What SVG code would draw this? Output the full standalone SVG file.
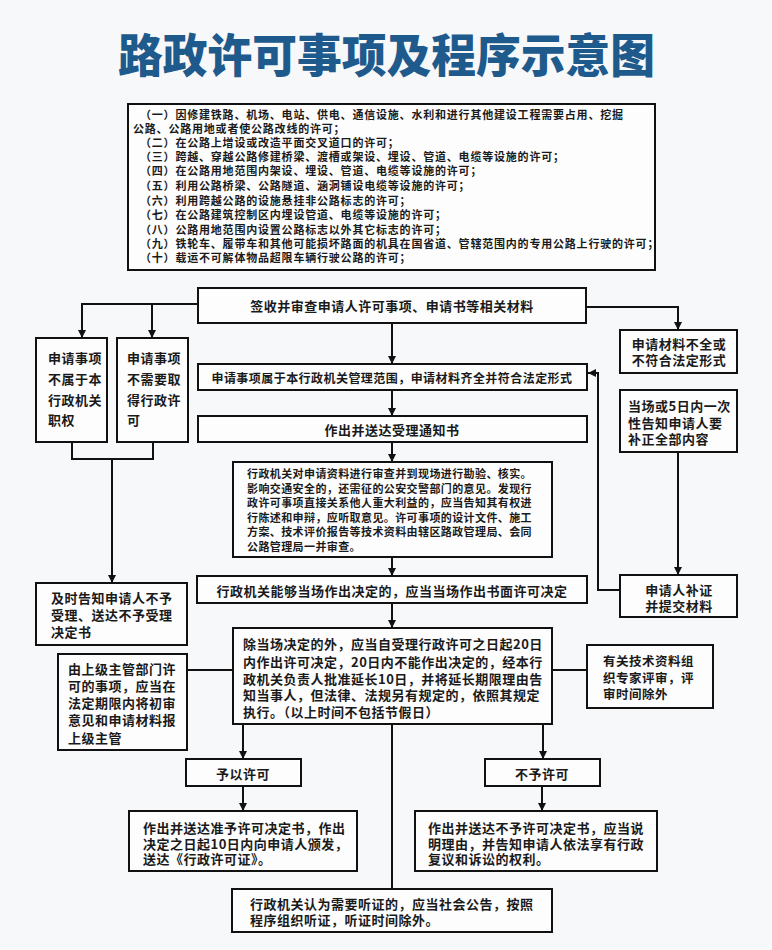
<svg xmlns="http://www.w3.org/2000/svg" width="772" height="950" viewBox="0 0 772 950">
<defs>
<marker id="arr" viewBox="0 0 10 10" refX="10" refY="5" markerWidth="9" markerHeight="8" markerUnits="userSpaceOnUse" orient="auto">
<path d="M0,0 L10,5 L0,10 z" fill="#111"/>
</marker>
<style>
text{font-family:"Noto Sans CJK SC","Noto Sans",sans-serif;font-weight:bold;fill:#1a1a1a;dominant-baseline:central}
.t{font-size:13px;letter-spacing:0.5px}
.s{font-size:11px;letter-spacing:0.8px}
.m{font-size:11px;letter-spacing:0.4px}
.c{text-anchor:middle}
.box{fill:#fdfdfd;stroke:#111;stroke-width:2}
.ln{fill:none;stroke:#111;stroke-width:2}
.ar{fill:none;stroke:#111;stroke-width:2;marker-end:url(#arr)}
</style>
</defs>
<rect width="772" height="950" fill="#f7f8fa"/>
<g id="title">
<text x="118" y="72" font-size="46" textLength="537" lengthAdjust="spacingAndGlyphs" style="fill:#1f5a8c;font-weight:900;dominant-baseline:auto">路政许可事项及程序示意图</text>
</g>
<g id="list">
<rect class="box" x="128" y="104" width="527" height="166"/>
<text class="s" x="140" y="114">（一）因修建铁路、机场、电站、供电、通信设施、水利和进行其他建设工程需要占用、挖掘</text>
<text class="s" x="133" y="128">公路、公路用地或者使公路改线的许可；</text>
<text class="s" x="140" y="142">（二）在公路上增设或改造平面交叉道口的许可；</text>
<text class="s" x="140" y="156">（三）跨越、穿越公路修建桥梁、渡槽或架设、埋设、管道、电缆等设施的许可；</text>
<text class="s" x="140" y="170">（四）在公路用地范围内架设、埋设、管道、电缆等设施的许可；</text>
<text class="s" x="140" y="185">（五）利用公路桥梁、公路隧道、涵洞铺设电缆等设施的许可；</text>
<text class="s" x="140" y="200">（六）利用跨越公路的设施悬挂非公路标志的许可；</text>
<text class="s" x="140" y="214">（七）在公路建筑控制区内埋设管道、电缆等设施的许可；</text>
<text class="s" x="140" y="229">（八）公路用地范围内设置公路标志以外其它标志的许可；</text>
<text class="s" x="140" y="243">（九）铁轮车、履带车和其他可能损坏路面的机具在国省道、管辖范围内的专用公路上行驶的许可；</text>
<text class="s" x="140" y="257">（十）载运不可解体物品超限车辆行驶公路的许可；</text>
</g>
<g id="connectors">
<line class="ar" x1="392" y1="323" x2="392" y2="364"/>
<line class="ar" x1="392" y1="390" x2="392" y2="416"/>
<line class="ar" x1="392" y1="442" x2="392" y2="462"/>
<line class="ar" x1="392" y1="557" x2="392" y2="576"/>
<line class="ar" x1="392" y1="603" x2="392" y2="628"/>
<path class="ar" d="M198,304 H82 V338"/>
<path class="ar" d="M152,304 V338"/>
<path class="ln" d="M72,442 V459 H153 V442"/>
<path class="ar" d="M112,459 V583"/>
<path class="ar" d="M586,307 H678 V330"/>
<path class="ar" d="M678,452 V575"/>
<path class="ar" d="M620,590 H598 V373 H588"/>
<line class="ln" x1="233" y1="670" x2="187" y2="670"/>
<line class="ln" x1="552" y1="670" x2="587" y2="670"/>
<path class="ar" d="M243,724 V759"/>
<path class="ar" d="M543,724 V759"/>
<path class="ln" d="M392,724 V889"/>
<path class="ar" d="M243,786 V811"/>
<path class="ar" d="M542,786 V811"/>
</g>
<g id="n-receive">
<rect class="box" x="198" y="288" width="388" height="35"/>
<text class="t c" x="392" y="305">签收并审查申请人许可事项、申请书等相关材料</text>
</g>
<g id="n-notscope">
<rect class="box" x="36" y="338" width="71" height="104"/>
<text class="t" x="48" y="357">申请事项</text>
<text class="t" x="48" y="378">不属于本</text>
<text class="t" x="48" y="399">行政机关</text>
<text class="t" x="48" y="419">职权</text>
</g>
<g id="n-notneed">
<rect class="box" x="117" y="338" width="71" height="104"/>
<text class="t" x="127" y="357">申请事项</text>
<text class="t" x="127" y="378">不需要取</text>
<text class="t" x="127" y="399">得行政许</text>
<text class="t" x="127" y="419">可</text>
</g>
<g id="n-reject">
<rect class="box" x="36" y="583" width="151" height="62"/>
<text class="t" x="51" y="597">及时告知申请人不予</text>
<text class="t" x="51" y="614">受理、送达不予受理</text>
<text class="t" x="51" y="631">决定书</text>
</g>
<g id="n-inscope">
<rect class="box" x="198" y="364" width="389" height="26"/>
<text class="t c" x="392" y="377" style="font-size:12px;letter-spacing:0.45px">申请事项属于本行政机关管理范围，申请材料齐全并符合法定形式</text>
</g>
<g id="n-notice">
<rect class="box" x="198" y="416" width="389" height="26"/>
<text class="t c" x="392" y="429">作出并送达受理通知书</text>
</g>
<g id="n-review">
<rect class="box" x="233" y="462" width="319" height="95"/>
<text class="m" x="247" y="473">行政机关对申请资料进行审查并到现场进行勘验、核实。</text>
<text class="m" x="247" y="488">影响交通安全的，还需征的公安交警部门的意见。发现行</text>
<text class="m" x="247" y="502">政许可事项直接关系他人重大利益的，应当告知其有权进</text>
<text class="m" x="247" y="517">行陈述和申辩，应听取意见。许可事项的设计文件、施工</text>
<text class="m" x="247" y="531">方案、技术评价报告等技术资料由辖区路政管理局、会同</text>
<text class="m" x="247" y="546">公路管理局一并审查。</text>
</g>
<g id="n-onsite">
<rect class="box" x="197" y="576" width="390" height="27"/>
<text class="t c" x="392" y="590">行政机关能够当场作出决定的，应当当场作出书面许可决定</text>
</g>
<g id="n-incomplete">
<rect class="box" x="620" y="330" width="117" height="43"/>
<text class="t c" x="679" y="343">申请材料不全或</text>
<text class="t c" x="679" y="359">不符合法定形式</text>
</g>
<g id="n-inform">
<rect class="box" x="620" y="390" width="117" height="62"/>
<text class="t" x="628" y="405">当场或5日内一次</text>
<text class="t" x="628" y="422">性告知申请人要</text>
<text class="t" x="628" y="438">补正全部内容</text>
</g>
<g id="n-supplement">
<rect class="box" x="620" y="575" width="117" height="42"/>
<text class="t c" x="679" y="589">申请人补证</text>
<text class="t c" x="679" y="605">并提交材料</text>
</g>
<g id="n-deadline">
<rect class="box" x="233" y="628" width="319" height="96"/>
<text class="t" x="243" y="643">除当场决定的外，应当自受理行政许可之日起20日</text>
<text class="t" x="243" y="661">内作出许可决定，20日内不能作出决定的，经本行</text>
<text class="t" x="243" y="678">政机关负责人批准延长10日，并将延长期限理由告</text>
<text class="t" x="243" y="694">知当事人，但法律、法规另有规定的，依照其规定</text>
<text class="t" x="243" y="711">执行。（以上时间不包括节假日）</text>
</g>
<g id="n-superior">
<rect class="box" x="58" y="654" width="129" height="96"/>
<text class="t" x="68" y="668">由上级主管部门许</text>
<text class="t" x="68" y="685">可的事项，应当在</text>
<text class="t" x="68" y="702">法定期限内将初审</text>
<text class="t" x="68" y="719">意见和申请材料报</text>
<text class="t" x="68" y="737">上级主管</text>
</g>
<g id="n-expert">
<rect class="box" x="587" y="645" width="126" height="63"/>
<text class="t" x="603" y="660" style="font-size:12.5px">有关技术资料组</text>
<text class="t" x="603" y="677" style="font-size:12.5px">织专家评审，评</text>
<text class="t" x="603" y="693" style="font-size:12.5px">审时间除外</text>
</g>
<g id="n-grant">
<rect class="box" x="186" y="759" width="115" height="27"/>
<text class="t c" x="243" y="773">予以许可</text>
</g>
<g id="n-deny">
<rect class="box" x="485" y="759" width="115" height="27"/>
<text class="t c" x="542" y="773">不予许可</text>
</g>
<g id="n-grantdoc">
<rect class="box" x="129" y="811" width="228" height="60"/>
<text class="t" x="143" y="827">作出并送达准予许可决定书，作出</text>
<text class="t" x="143" y="843">决定之日起10日内向申请人颁发，</text>
<text class="t" x="143" y="858">送达《行政许可证》。</text>
</g>
<g id="n-denydoc">
<rect class="box" x="415" y="811" width="242" height="60"/>
<text class="t" x="428" y="827">作出并送达不予许可决定书，应当说</text>
<text class="t" x="428" y="843">明理由，并告知申请人依法享有行政</text>
<text class="t" x="428" y="858">复议和诉讼的权利。</text>
</g>
<g id="n-hearing">
<rect class="box" x="232" y="889" width="320" height="43"/>
<text class="t" x="250" y="903">行政机关认为需要听证的，应当社会公告，按照</text>
<text class="t" x="250" y="919">程序组织听证，听证时间除外。</text>
</g>
</svg>
